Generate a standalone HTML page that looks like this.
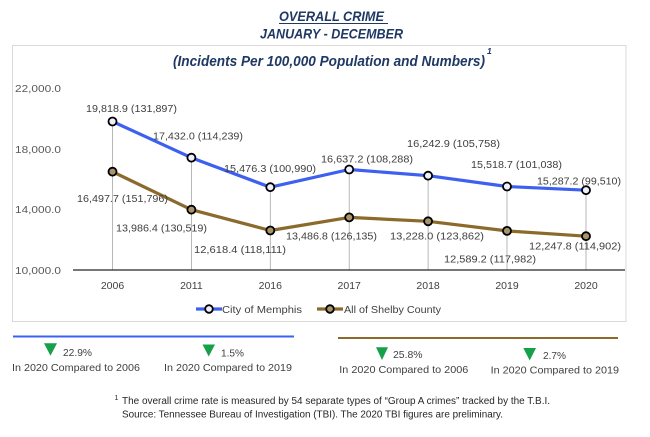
<!DOCTYPE html>
<html><head><meta charset="utf-8"><style>
html,body{margin:0;padding:0;background:#fff;}
svg{display:block;}
text{font-family:"Liberation Sans",sans-serif;}
</style></head><body>
<svg width="650" height="437" viewBox="0 0 650 437" xmlns="http://www.w3.org/2000/svg">
<rect width="650" height="437" fill="#fff"/>
<!-- Titles -->
<g fill="#1f3864" font-weight="bold" font-style="italic">
<text x="279" y="21" font-size="14" textLength="105" lengthAdjust="spacingAndGlyphs">OVERALL CRIME</text>
<line x1="279" y1="23.5" x2="388" y2="23.5" stroke="#1f3864" stroke-width="1"/>
<text x="260" y="38.5" font-size="14" textLength="143" lengthAdjust="spacingAndGlyphs">JANUARY - DECEMBER</text>
</g>
<rect x="12.5" y="45.5" width="613.5" height="276" fill="none" stroke="#d9d9d9" stroke-width="1"/>
<g fill="#1f3864" font-weight="bold" font-style="italic">
<text x="173" y="66" font-size="14.5" textLength="312" lengthAdjust="spacingAndGlyphs">(Incidents Per 100,000 Population and Numbers)</text>
<text x="487" y="54" font-size="8.5">1</text>
</g>
<!-- Y axis labels -->
<g fill="#595959" font-size="10.5">
<text x="15" y="92" textLength="46" lengthAdjust="spacingAndGlyphs">22,000.0</text>
<text x="15" y="153" textLength="46" lengthAdjust="spacingAndGlyphs">18,000.0</text>
<text x="15" y="213" textLength="46" lengthAdjust="spacingAndGlyphs">14,000.0</text>
<text x="15" y="274" textLength="46" lengthAdjust="spacingAndGlyphs">10,000.0</text>
</g>
<!-- drop lines -->
<g stroke="#a6a6a6" stroke-width="0.8">
<line x1="112.5" y1="121.5" x2="112.5" y2="270"/>
<line x1="191.4" y1="157.7" x2="191.4" y2="270"/>
<line x1="270.3" y1="187.2" x2="270.3" y2="270"/>
<line x1="349.2" y1="169.5" x2="349.2" y2="270"/>
<line x1="428.1" y1="175.7" x2="428.1" y2="270"/>
<line x1="507" y1="186.5" x2="507" y2="270"/>
<line x1="586" y1="190.2" x2="586" y2="270"/>
</g>
<line x1="73" y1="270" x2="625" y2="270" stroke="#262626" stroke-width="1.2"/>
<!-- Series -->
<polyline points="112.5,121.5 191.4,157.7 270.3,187.2 349.2,169.5 428.1,175.7 507,186.5 586,190.2" fill="none" stroke="#3d60f0" stroke-width="3.2" stroke-linejoin="round"/>
<polyline points="112.5,171.7 191.4,209.7 270.3,230.5 349.2,217.4 428.1,221.3 507,230.9 586,236.2" fill="none" stroke="#8b6a2c" stroke-width="3.2" stroke-linejoin="round"/>
<g stroke="#000" stroke-width="1.8" fill="#eef0ff">
<circle cx="112.5" cy="121.5" r="4"/><circle cx="191.4" cy="157.7" r="4"/><circle cx="270.3" cy="187.2" r="4"/><circle cx="349.2" cy="169.5" r="4"/><circle cx="428.1" cy="175.7" r="4"/><circle cx="507" cy="186.5" r="4"/><circle cx="586" cy="190.2" r="4"/>
</g>
<g stroke="#000" stroke-width="1.8" fill="#a8946a">
<circle cx="112.5" cy="171.7" r="4"/><circle cx="191.4" cy="209.7" r="4"/><circle cx="270.3" cy="230.5" r="4"/><circle cx="349.2" cy="217.4" r="4"/><circle cx="428.1" cy="221.3" r="4"/><circle cx="507" cy="230.9" r="4"/><circle cx="586" cy="236.2" r="4"/>
</g>
<!-- data labels -->
<g fill="#404040" font-size="10">
<text x="86" y="112" textLength="91" lengthAdjust="spacingAndGlyphs">19,818.9 (131,897)</text>
<text x="153" y="139.5" textLength="90" lengthAdjust="spacingAndGlyphs">17,432.0 (114,239)</text>
<text x="224" y="172" textLength="92" lengthAdjust="spacingAndGlyphs">15,476.3 (100,990)</text>
<text x="321" y="162.5" textLength="92" lengthAdjust="spacingAndGlyphs">16,637.2 (108,288)</text>
<text x="407" y="147" textLength="93" lengthAdjust="spacingAndGlyphs">16,242.9  (105,758)</text>
<text x="471" y="168" textLength="91" lengthAdjust="spacingAndGlyphs">15,518.7 (101,038)</text>
<text x="537" y="184.5" textLength="84" lengthAdjust="spacingAndGlyphs">15,287.2 (99,510)</text>
<text x="77" y="202" textLength="91" lengthAdjust="spacingAndGlyphs">16,497.7 (151,796)</text>
<text x="116" y="231.5" textLength="91" lengthAdjust="spacingAndGlyphs">13,986.4 (130,519)</text>
<text x="194" y="253" textLength="92" lengthAdjust="spacingAndGlyphs">12,618.4 (118,111)</text>
<text x="286" y="239.5" textLength="91" lengthAdjust="spacingAndGlyphs">13,486.8 (126,135)</text>
<text x="390" y="239.5" textLength="94" lengthAdjust="spacingAndGlyphs">13,228.0  (123,862)</text>
<text x="444" y="262.5" textLength="92" lengthAdjust="spacingAndGlyphs">12,589.2 (117,982)</text>
<text x="529" y="249.5" textLength="92" lengthAdjust="spacingAndGlyphs">12,247.8 (114,902)</text>
</g>
<!-- x labels -->
<g fill="#404040" font-size="10.5" text-anchor="middle">
<text x="112.5" y="289">2006</text>
<text x="191.4" y="289">2011</text>
<text x="270.3" y="289">2016</text>
<text x="349.2" y="289">2017</text>
<text x="428.1" y="289">2018</text>
<text x="507" y="289">2019</text>
<text x="586" y="289">2020</text>
</g>
<!-- legend -->
<line x1="196" y1="309" x2="222" y2="309" stroke="#3d60f0" stroke-width="3.2"/>
<circle cx="209" cy="309" r="3.8" stroke="#000" stroke-width="1.8" fill="#eef0ff"/>
<text x="222" y="312.8" fill="#404040" font-size="10.5" textLength="80" lengthAdjust="spacingAndGlyphs">City of Memphis</text>
<line x1="317" y1="309" x2="343" y2="309" stroke="#8b6a2c" stroke-width="3.2"/>
<circle cx="330" cy="309" r="3.8" stroke="#000" stroke-width="1.8" fill="#a8946a"/>
<text x="344" y="312.8" fill="#404040" font-size="10.5" textLength="97" lengthAdjust="spacingAndGlyphs">All of Shelby County</text>
<!-- bottom stats -->
<line x1="13" y1="336.5" x2="294" y2="336.5" stroke="#3d60f0" stroke-width="2"/>
<line x1="338" y1="338" x2="618" y2="338" stroke="#8b6a2c" stroke-width="2"/>
<g fill="#16a04a">
<polygon points="44,343.3 57,343.3 50.5,355.7"/>
<polygon points="202.5,344.5 215,344.5 208.7,356.5"/>
<polygon points="376,347.3 388,347.3 382,360"/>
<polygon points="523.3,348 536,348 529.7,360.5"/>
</g>
<g fill="#404040" font-size="10.5">
<text x="63" y="355.8" textLength="29" lengthAdjust="spacingAndGlyphs">22.9%</text>
<text x="12" y="371" textLength="128" lengthAdjust="spacingAndGlyphs">In 2020 Compared to 2006</text>
<text x="221" y="356.5" textLength="23" lengthAdjust="spacingAndGlyphs">1.5%</text>
<text x="164" y="371" textLength="128" lengthAdjust="spacingAndGlyphs">In 2020 Compared to 2019</text>
<text x="393" y="357.8" textLength="29.5" lengthAdjust="spacingAndGlyphs">25.8%</text>
<text x="339.3" y="373" textLength="129" lengthAdjust="spacingAndGlyphs">In 2020 Compared to 2006</text>
<text x="543" y="359" textLength="23" lengthAdjust="spacingAndGlyphs">2.7%</text>
<text x="490.7" y="373.7" textLength="128.3" lengthAdjust="spacingAndGlyphs">In 2020 Compared to 2019</text>
</g>
<!-- footnote -->
<g fill="#262626">
<text x="114.5" y="400" font-size="7">1</text>
<text x="122" y="404.2" font-size="10" textLength="428" lengthAdjust="spacingAndGlyphs">The overall crime rate is measured by 54 separate types of “Group A crimes” tracked by the T.B.I.</text>
<text x="122" y="417.7" font-size="10" textLength="381" lengthAdjust="spacingAndGlyphs">Source:  Tennessee Bureau of Investigation (TBI).  The 2020 TBI figures are preliminary.</text>
</g>
</svg>
</body></html>
